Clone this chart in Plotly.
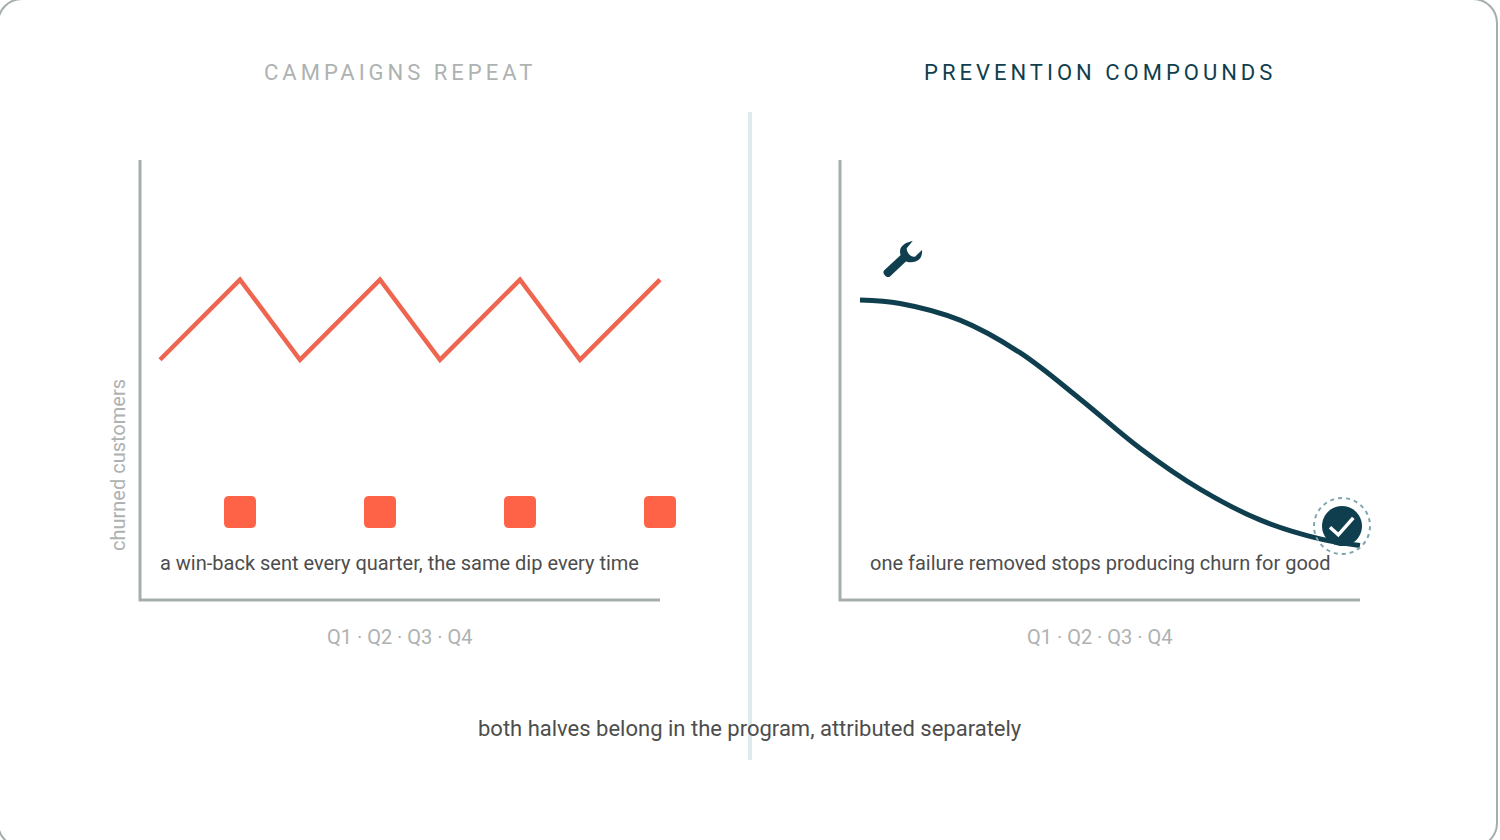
import plotly.graph_objects as go

# --- Data ---
campaign_x = [0.5, 2.5, 4, 6, 7.5, 9.5, 11, 13]
campaign_y = [54.6, 72.8, 54.6, 72.8, 54.6, 72.8, 54.6, 72.8]
winback_x = [2.5, 6, 9.5, 13]
winback_y = [20, 20, 20, 20]

prevention_x = [0.5, 1.5, 3, 4.5, 6, 7.5, 9, 10.5, 12, 13]
prevention_y = [68.2, 67.4, 63.6, 56.2, 45.7, 34.5, 25.2, 18.2, 13.9, 12.4]
fix_x, fix_y = 1.575, 77.5
done_x, done_y = 12.55, 16.8

W, H = 1500, 840
INK = "#0f3f4e"
CORAL = "#ff6347"
LINE_CORAL = "#ef6650"
AXIS = "#a6aeac"
MUTED = "#aeb2b1"
TEXT = "#4d4d4d"
FONT = "Roboto"


def px(x):
    return x / W


def py(y):
    return 1 - y / H


def icon(path, x, y, xref, yref, fill=None, line=None, width=0, dash=None):
    # path is in pixels around the anchor point, y pointing up
    return dict(type="path", path=path, xref=xref, yref=yref, xsizemode="pixel", ysizemode="pixel",
                xanchor=x, yanchor=y, fillcolor=fill or "rgba(0,0,0,0)",
                line=dict(color=line or "rgba(0,0,0,0)", width=width, dash=dash), layer="above")


def label(text, x, y, size, color, **kw):
    return dict(text=text, x=x, y=y, xref="paper", yref="paper", showarrow=False, xanchor="center",
                yanchor="middle", font=dict(family=FONT, size=size, color=color), **kw)


def circle(r):
    # no arcs in plotly shape paths, so four beziers
    k = round(r * 0.5523, 2)
    return (f"M{-r} 0 C{-r} {k} {-k} {r} 0 {r} C{k} {r} {r} {k} {r} 0 "
            f"C{r} {-k} {k} {-r} 0 {-r} C{-k} {-r} {-r} {-k} {-r} 0 Z")


def card(left, top, right, bottom, r):
    k = r * 0.4477
    return (f"M{px(left)} {py(top + r)} C{px(left)} {py(top + k)} {px(left + k)} {py(top)} {px(left + r)} {py(top)} "
            f"L{px(right - r)} {py(top)} C{px(right - k)} {py(top)} {px(right)} {py(top + k)} {px(right)} {py(top + r)} "
            f"L{px(right)} {py(bottom - r)} C{px(right)} {py(bottom - k)} {px(right - k)} {py(bottom)} {px(right - r)} {py(bottom)} "
            f"L{px(left + r)} {py(bottom)} C{px(left + k)} {py(bottom)} {px(left)} {py(bottom - k)} {px(left)} {py(bottom - r)} Z")


SQUARE = ("M-11 -16 L11 -16 Q16 -16 16 -11 L16 11 Q16 16 11 16 L-11 16 Q-16 16 -16 11 "
          "L-16 -11 Q-16 -16 -11 -16 Z")
WRENCH_HEAD = ("M9.7 18 C4 17 -3 14 -3 7.3 C-3 4.5 -1.5 2.5 -0.3 1.7 L2 -1.7 C6 -4.5 13 -3.5 16.3 -0.3 "
               "C18.5 2 19.5 6 19 9 L12 2.3 C9 2 6.5 3.5 5.3 5.7 C4 8 3.7 9 3.7 10.7 Z")
WRENCH_HANDLE = "M5 -0.6 L-13 -17.4 C-15.8 -20 -21.4 -14.2 -19 -11.6 L-1 5.2 Z"
CHECK = "M-12 -1.2 L-3.7 -8.8 L11.3 8.2"

# --- Figure ---
fig = go.Figure()
fig.add_trace(go.Scatter(x=campaign_x, y=campaign_y, mode="lines", xaxis="x", yaxis="y",
                         line=dict(color=LINE_CORAL, width=4.5), hoverinfo="skip"))
fig.add_trace(go.Scatter(x=prevention_x, y=prevention_y, mode="lines", xaxis="x2", yaxis="y2",
                         line=dict(color=INK, width=5, shape="spline", smoothing=1.0), hoverinfo="skip"))

shapes = [
    dict(type="path", xref="paper", yref="paper", layer="below", fillcolor="white",
         line=dict(color=AXIS, width=2), path=card(-2, -1, 1497, 847, 24)),
    # divider
    dict(type="line", xref="paper", yref="paper", x0=px(750), x1=px(750), y0=py(112), y1=py(760),
         line=dict(color="#deebed", width=4), layer="below"),
]
for xr, yr in (("x", "y"), ("x2", "y2")):
    shapes.append(dict(type="path", xref=xr, yref=yr, path="M0 100 L0 0 L13 0",
                       line=dict(color=AXIS, width=3), layer="below"))
for x, y in zip(winback_x, winback_y):
    shapes.append(icon(SQUARE, x, y, "x", "y", fill=CORAL))
shapes += [
    icon(WRENCH_HANDLE, fix_x, fix_y, "x2", "y2", fill=INK),
    icon(WRENCH_HEAD, fix_x, fix_y, "x2", "y2", fill=INK),
    icon(circle(20), done_x, done_y, "x2", "y2", fill=INK),
    icon(circle(28), done_x, done_y, "x2", "y2", line="#7fa5af", width=2, dash="4px,4px"),
    icon(CHECK, done_x, done_y, "x2", "y2", line="white", width=3.5),
]

annotations = [
    label('<span style="letter-spacing:4px">CAMPAIGNS REPEAT</span>', px(400), py(72), 22, MUTED),
    label('<span style="letter-spacing:4px">PREVENTION COMPOUNDS</span>', px(1100), py(72), 22, INK),
    label("churned customers", px(117.5), py(465.5), 20, MUTED, textangle=-90),
    label("a win-back sent every quarter, the same dip every time", px(399.5), py(563), 20, TEXT),
    label("one failure removed stops producing churn for good", px(1100), py(563), 20, TEXT),
    label("Q1 · Q2 · Q3 · Q4", px(399.5), py(637), 20, MUTED),
    label("Q1 · Q2 · Q3 · Q4", px(1099.5), py(637), 20, MUTED),
    label("both halves belong in the program, attributed separately", px(750), py(728), 22, TEXT),
]

hidden = dict(visible=False, fixedrange=True)
fig.update_layout(
    width=W, height=H, margin=dict(l=0, r=0, t=0, b=0), showlegend=False,
    paper_bgcolor="white", plot_bgcolor="rgba(0,0,0,0)",
    shapes=shapes, annotations=annotations,
    xaxis=dict(domain=[px(100), px(700)], range=[-1, 14], **hidden),
    xaxis2=dict(domain=[px(800), px(1400)], range=[-1, 14], **hidden),
    yaxis=dict(domain=[py(620), py(140)], range=[-4.545, 104.545], **hidden),
    yaxis2=dict(domain=[py(620), py(140)], range=[-4.545, 104.545], **hidden),
)

# page body has a default margin that would push the chart off by 8px
fig.write_html("out.html", config=dict(displayModeBar=False),
               post_script="document.body.style.margin = '0';")
